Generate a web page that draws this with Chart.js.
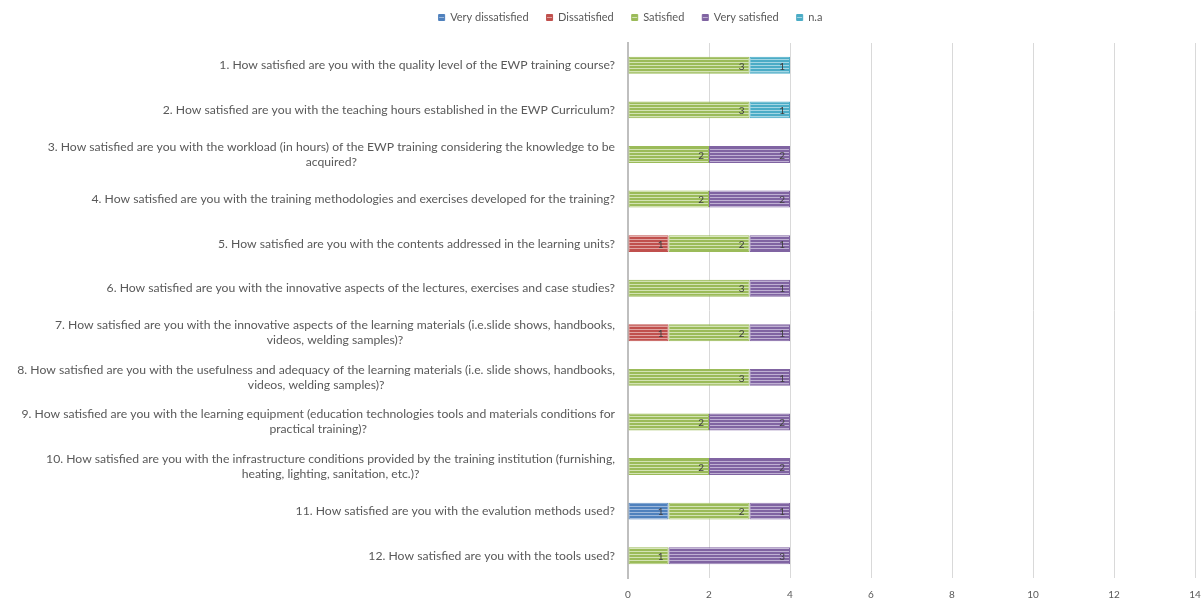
<!DOCTYPE html>
<html>
<head>
<meta charset="utf-8">
<script src="https://cdn.jsdelivr.net/npm/chart.js@4/dist/chart.umd.min.js"></script>
<style>
  html, body { margin: 0; padding: 0; background: #fff; }
  #wrap { width: 1204px; height: 601px; }
</style>
</head>
<body>
<div id="wrap"><canvas id="chart"></canvas></div>
<script>
// survey questions (y categories)
const questions = [
  ["1. How satisfied are you with the quality level of the EWP training course?"],
  ["2. How satisfied are you with the teaching hours established in the EWP Curriculum?"],
  ["3. How satisfied are you with the workload (in hours) of the EWP training considering the knowledge to be", "acquired?"],
  ["4. How satisfied are you with the training methodologies and exercises developed for the training?"],
  ["5. How satisfied are you with the contents addressed in the learning units?"],
  ["6. How satisfied are you with the innovative aspects of the lectures, exercises and case studies?"],
  ["7. How satisfied are you with the innovative aspects of the learning materials (i.e.slide shows, handbooks,", "videos, welding samples)?"],
  ["8. How satisfied are you with the usefulness and adequacy of the learning materials (i.e. slide shows, handbooks,", "videos, welding samples)?"],
  ["9. How satisfied are you with the learning equipment (education technologies tools and materials conditions for", "practical training)?"],
  ["10. How satisfied are you with the infrastructure conditions provided by the training institution (furnishing,", "heating, lighting, sanitation, etc.)?"],
  ["11. How satisfied are you with the evalution methods used?"],
  ["12. How satisfied are you with the tools used?"]
];

// answer counts per question (null = no answers)
const veryDissatisfied = [null, null, null, null, null, null, null, null, null, null, 1, null];
const dissatisfied     = [null, null, null, null, 1, null, 1, null, null, null, null, null];
const satisfied        = [3, 3, 2, 2, 2, 3, 2, 3, 2, 2, 2, 1];
const verySatisfied    = [null, null, 2, 2, 1, 1, 1, 1, 2, 2, 1, 3];
const notApplicable    = [1, 1, null, null, null, null, null, null, null, null, null, null];

const xTicks = [0, 2, 4, 6, 8, 10, 12, 14];

const FONT = "Lato, 'Open Sans', sans-serif";

// striped fill like the office chart style
function stripes(color, light) {
  const c = document.createElement("canvas");
  c.width = 4; c.height = 3;
  const g = c.getContext("2d");
  g.fillStyle = color;
  g.fillRect(0, 0, 4, 3);
  g.fillStyle = light;
  g.fillRect(0, 2, 4, 1);
  return g.createPattern(c, "repeat");
}

function ds(label, data, color, light) {
  return {
    label: label,
    data: data,
    backgroundColor: stripes(color, light),
    borderColor: color,
    borderWidth: 1,
    borderSkipped: false,
    barPercentage: 0.38,
    categoryPercentage: 1
  };
}

// value labels at the inner end of each segment
const valueLabels = {
  id: "valueLabels",
  afterDatasetsDraw(chart) {
    const ctx = chart.ctx;
    ctx.save();
    ctx.font = "10px " + FONT;
    ctx.fillStyle = "#404040";
    ctx.textAlign = "right";
    ctx.textBaseline = "middle";
    chart.data.datasets.forEach((d, i) => {
      const meta = chart.getDatasetMeta(i);
      meta.data.forEach((bar, j) => {
        if (d.data[j] == null) return;
        ctx.fillText(String(d.data[j]), bar.x - 5, bar.y + 1);
      });
    });
    ctx.restore();
  }
};

// question labels: block right aligned, lines centred within block
const questionLabels = {
  id: "questionLabels",
  afterDraw(chart) {
    const ctx = chart.ctx;
    const y = chart.scales.y;
    ctx.save();
    ctx.font = "12.2px " + FONT;
    ctx.fillStyle = "#595959";
    ctx.textAlign = "center";
    ctx.textBaseline = "middle";
    const right = chart.chartArea.left - 13;
    const lh = 15;
    questions.forEach((lines, i) => {
      const w = Math.max(...lines.map(l => ctx.measureText(l).width));
      const cx = right - w / 2;
      const cy = y.getPixelForValue(i);
      const top = cy - (lines.length - 1) * lh / 2;
      lines.forEach((l, k) => ctx.fillText(l, cx, top + k * lh));
    });
    ctx.restore();
  }
};

// legend: extra gap below it and shifted a bit right, like the original
const legendTweak = {
  id: "legendTweak",
  afterInit(chart) {
    const lg = chart.legend;
    if (!lg) return;
    const fit = lg.fit;
    lg.fit = function () { fit.call(this); this.height += 10; };
    const draw = lg.draw;
    lg.draw = function () {
      const ctx = this.ctx;
      ctx.save();
      ctx.translate(33, 0);
      draw.call(this);
      ctx.restore();
    };
  }
};

new Chart(document.getElementById("chart"), {
  type: "bar",
  data: {
    labels: questions.map(q => q.join(" ")),
    datasets: [
      ds("Very dissatisfied", veryDissatisfied, "#4F81BD", "#9db8db"),
      ds("Dissatisfied", dissatisfied, "#C0504D", "#e0a3a1"),
      ds("Satisfied", satisfied, "#9BBB59", "#d3e3b4"),
      ds("Very satisfied", verySatisfied, "#8064A2", "#bfb0d3"),
      ds("n.a", notApplicable, "#4BACC6", "#a3d6e4")
    ]
  },
  options: {
    indexAxis: "y",
    responsive: true,
    maintainAspectRatio: false,
    animation: false,
    layout: { padding: { left: 0, right: 9, top: -6, bottom: 0 } },
    plugins: {
      legend: {
        position: "top",
        labels: {
          boxWidth: 6,
          boxHeight: 6,
          padding: 18,
          color: "#595959",
          font: { family: FONT, size: 11 }
        }
      },
      tooltip: { enabled: false }
    },
    scales: {
      x: {
        stacked: true,
        min: 0,
        max: 14,
        afterBuildTicks(axis) { axis.ticks = xTicks.map(v => ({ value: v })); },
        grid: { color: "#d9d9d9", drawTicks: false },
        border: { display: false },
        ticks: {
          color: "#595959",
          padding: 11,
          font: { family: FONT, size: 10 }
        },
        afterFit(axis) {
          axis.height = 23;
          axis.paddingRight = 0;
          axis.paddingLeft = 0;
        }
      },
      y: {
        stacked: true,
        grid: { display: false },
        border: { color: "#bfbfbf", width: 2 },
        ticks: { display: false },
        afterFit(axis) { axis.width = 628; }
      }
    }
  },
  plugins: [legendTweak, valueLabels, questionLabels]
});
</script>
</body>
</html>
